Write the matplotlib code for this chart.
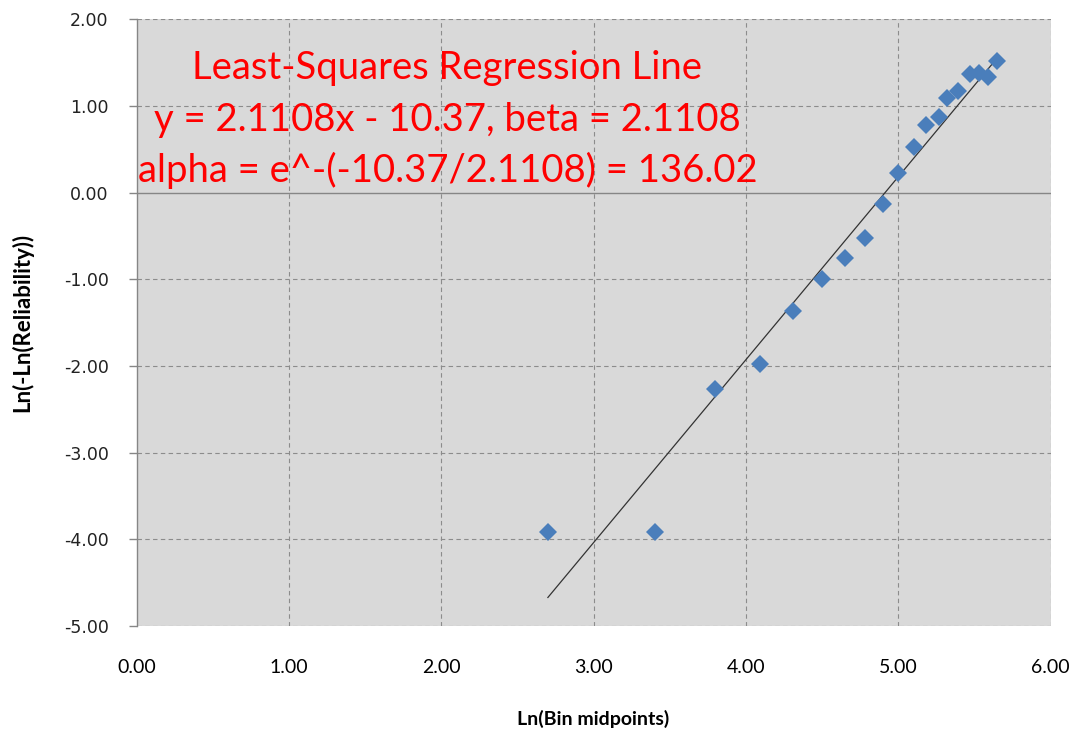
import numpy as np
import matplotlib
matplotlib.use('Agg')
import matplotlib.pyplot as plt

# Datos
ln_bin_mid = [2.70, 3.40, 3.80, 4.09, 4.31, 4.50, 4.65, 4.78, 4.90, 5.00,
              5.10, 5.18, 5.27, 5.32, 5.39, 5.47, 5.53, 5.59, 5.65]
ln_ln_rel = [-3.92, -3.92, -2.26, -1.98, -1.36, -1.00, -0.75, -0.52, -0.13, 0.23,
             0.53, 0.78, 0.87, 1.09, 1.17, 1.37, 1.38, 1.34, 1.52]

slope = 2.1108
intercept = -10.37

x_ticks = [0, 1, 2, 3, 4, 5, 6]
y_ticks = [-5, -4, -3, -2, -1, 0, 1, 2]

texto = ['Least-Squares Regression Line',
         'y = 2.1108x - 10.37, beta = 2.1108',
         'alpha = e^-(-10.37/2.1108) = 136.02']

fig = plt.figure(figsize=(10.82, 7.38), dpi=100)
ax = fig.add_axes([136.5 / 1082, 1 - 626 / 738, (1050.7 - 136.5) / 1082, (626 - 19.3) / 738])
ax.set_facecolor('#d9d9d9')

grid_kw = dict(color='#8c8c8c', linewidth=0.8, linestyle=(0, (4, 3)))
for xv in x_ticks[1:]:
    ax.axvline(xv, zorder=1, **grid_kw)
for yv in y_ticks:
    if yv != 0:
        ax.axhline(yv, zorder=1, **grid_kw)
ax.axhline(0, color='#868686', linewidth=1.0, zorder=1.5)

# linea de regresion
xl = np.array([min(ln_bin_mid), max(ln_bin_mid)])
ax.plot(xl, slope * xl + intercept, color='#333333', linewidth=0.9, zorder=2)

ax.plot(ln_bin_mid, ln_ln_rel, linestyle='none', marker='D', markersize=9.5,
        color='#4a7ebb', markeredgewidth=0, zorder=3)

ax.set_xlim(0, 6)
ax.set_ylim(-5, 2)
ax.set_xticks(x_ticks)
ax.set_yticks(y_ticks)
ax.set_xticklabels(['%.2f' % v for v in x_ticks], fontsize=14, family='Lato', color='#000000')
ax.set_yticklabels(['%.2f' % v for v in y_ticks], fontsize=12.5, family='DejaVu Sans', color='#222222')
ax.tick_params(axis='x', length=0, pad=24)
ax.tick_params(axis='y', length=6, width=1, color='#868686', pad=14, direction='out')

for s in ['top', 'right', 'bottom']:
    ax.spines[s].set_visible(False)
ax.spines['left'].set_color('#868686')
ax.spines['left'].set_linewidth(1.0)

ax.set_xlabel('Ln(Bin midpoints)', fontsize=14, family='Lato', fontweight='bold', labelpad=24)
ax.set_ylabel('Ln(-Ln(Reliability))', fontsize=16, family='Lato', fontweight='bold', labelpad=22)

for t, yv in zip(texto, [1.44, 0.84, 0.26]):
    ax.text(2.04, yv, t, color='#ff0000', fontsize=27.5, family='Lato',
            ha='center', va='center', zorder=4)

fig.savefig('out.png', dpi=100)
